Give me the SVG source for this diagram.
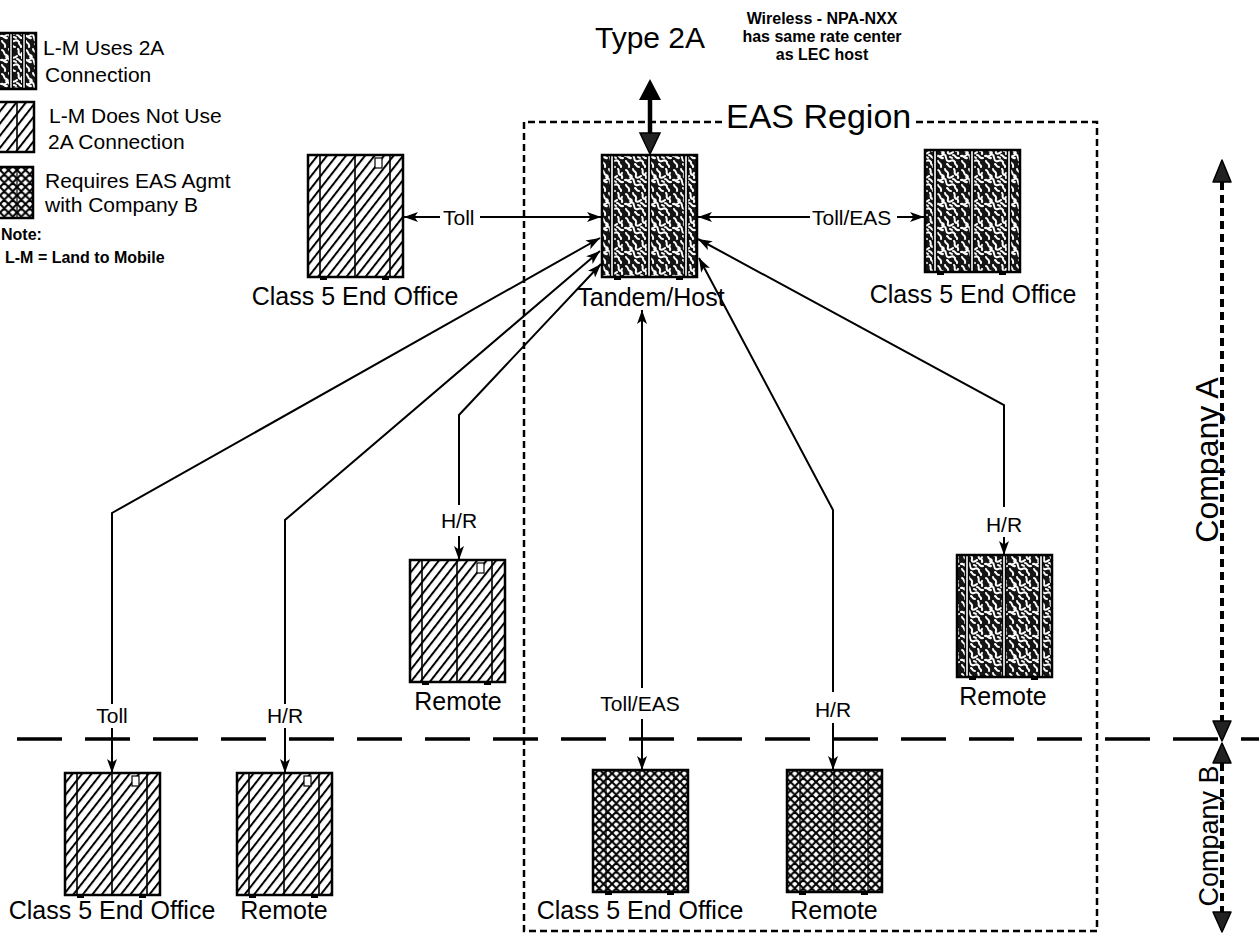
<svg xmlns="http://www.w3.org/2000/svg" width="1259" height="936" viewBox="0 0 1259 936">
<style>
 text { font-family: "Liberation Sans", Arial, sans-serif; fill:#000; }
 .lbl { font-size:25px; text-anchor:middle; }
 .cl { font-size:21px; text-anchor:middle; }
 .cls { font-size:21px; }
 .leg { font-size:21px; }
 .note { font-size:16px; font-weight:bold; }
 .wl { font-size:16px; font-weight:bold; text-anchor:middle; }
 .big { font-size:30px; }
 .comp { text-anchor:middle; }
 .conn { fill:none; stroke:#000; stroke-width:2; marker-end:url(#ah); }
 .eas { fill:none; stroke:#000; stroke-width:2.5; stroke-dasharray:7 4; }
 .cline { stroke:#000; stroke-width:3.5; stroke-dasharray:45 23; }
 .cvert { stroke:#000; stroke-width:4; stroke-dasharray:8 5; }
 .head { fill:#222; stroke:#000; stroke-width:1.5; stroke-linejoin:round; }
 .h { fill:url(#hatch); } .m { fill:url(#maze); } .x { fill:url(#cross); }
 .frame { fill:none; stroke:#000; stroke-width:2.5; }
</style>
<defs>
 <pattern id="hatch" width="7.5" height="7.5" patternUnits="userSpaceOnUse" patternTransform="rotate(38)">
  <rect width="7.5" height="7.5" fill="#fff"/>
  <line x1="1" y1="0" x2="1" y2="7.5" stroke="#000" stroke-width="2"/>
 </pattern>
 <pattern id="cross" width="8.5" height="8.5" patternUnits="userSpaceOnUse">
  <rect width="8.5" height="8.5" fill="#fff"/>
  <path d="M0 0L8.5 8.5M8.5 0L0 8.5M-1 7.5L1 9.5M7.5 -1L9.5 1M-1 1L1 -1M7.5 9.5L9.5 7.5" stroke="#000" stroke-width="2.1"/>
 </pattern>
 <pattern id="maze" width="24" height="24" patternUnits="userSpaceOnUse">
  <rect width="24" height="24" fill="#151515"/>
  <path d="M2 2c3 1 1 4 4 5s2 4-1 5M9 1c0 3 4 2 3 6s3 3 5 1M18 1c2 2-1 4 2 6M1 12c3-1 3 3 6 2M9 11c2 2 0 5 3 6s4-2 6 0M17 11c3 0 2 4 6 3M2 17c1 3 4 2 3 6M11 20c2 1 1 3 4 3M19 18c-1 3 3 3 2 5M22 5c-2 2 1 3 0 5M14 13c1 1 2 0 2 1M6 9h1" fill="none" stroke="#fff" stroke-width="2" stroke-linecap="round"/>
 </pattern>
 <marker id="ah" viewBox="0 0 14 10" refX="14" refY="5" markerWidth="14" markerHeight="10" orient="auto" markerUnits="userSpaceOnUse">
  <path d="M0 0L14 5L0 10L3.5 5Z" fill="#000"/>
 </marker>
 <g id="fh">
  <path d="M12 0V122M47 0V122M82 0V122" stroke="#000" stroke-width="1.6"/>
  <rect x="0" y="0" width="95" height="122" class="frame"/>
  <rect x="67" y="3" width="7" height="10" fill="#fff" stroke="#000" stroke-width="1.2"/>
  <path d="M12 122h7v3h-7zM74 122h7v3h-7z" fill="#000"/>
 </g>
 <g id="fm">
  <path d="M10 0V122M47 0V122M84 0V122" stroke="#000" stroke-width="4.5"/>
  <path d="M10 0V122M47 0V122M84 0V122" stroke="#fff" stroke-width="1.6"/>
  <rect x="0" y="0" width="95" height="122" class="frame"/>
  <path d="M12 122h7v3h-7zM74 122h7v3h-7z" fill="#000"/>
 </g>
 <g id="fx">
  <path d="M13 0V122M47 0V122M81 0V122" stroke="#000" stroke-width="1.2"/>
  <rect x="0" y="0" width="95" height="122" class="frame"/>
  <path d="M12 122h7v3h-7zM74 122h7v3h-7z" fill="#000"/>
 </g>
</defs>
<rect width="1259" height="936" fill="#fff"/>

<g id="legend">
 <rect class="m" x="-3" y="33" width="39" height="56"/>
 <path d="M11 33V89M24 33V89" stroke="#000" stroke-width="4"/>
 <path d="M11 33V89M24 33V89" stroke="#fff" stroke-width="1.4"/>
 <rect class="frame" x="-3" y="33" width="39" height="56"/>
 <text class="leg" x="43" y="55">L-M Uses 2A</text>
 <text class="leg" x="45" y="82">Connection</text>
 <rect class="h" x="-3" y="102" width="37" height="50"/>
 <path d="M17 102V152" stroke="#000" stroke-width="1.6"/>
 <rect class="frame" x="-3" y="102" width="37" height="50"/>
 <text class="leg" x="49" y="123">L-M Does Not Use</text>
 <text class="leg" x="48" y="149">2A Connection</text>
 <rect class="x" x="-3" y="167" width="36" height="51"/>
 <path d="M17 167V218" stroke="#000" stroke-width="1.2"/>
 <rect class="frame" x="-3" y="167" width="36" height="51"/>
 <text class="leg" x="45" y="188">Requires EAS Agmt</text>
 <text class="leg" x="45" y="212">with Company B</text>
 <text class="note" x="1" y="240">Note:</text>
 <text class="note" x="5" y="263">L-M = Land to Mobile</text>
</g>

<g id="region-labels">
 <text class="big" x="595" y="48">Type 2A</text>
 <text class="wl" x="822" y="24">Wireless - NPA-NXX</text>
 <text class="wl" x="822" y="42">has same rate center</text>
 <text class="wl" x="822" y="60">as LEC host</text>
 <text x="726" y="128" font-size="34">EAS Region</text>
</g>

<g id="eas-region">
 <path class="eas" d="M722 122H524V931H1097V122H915"/>
</g>

<g id="company-divider">
 <line class="cline" x1="17" y1="739" x2="1259" y2="739"/>
 <line class="cvert" x1="1222" y1="182" x2="1222" y2="721"/>
 <line class="cvert" x1="1222" y1="763" x2="1222" y2="912"/>
 <path class="head" d="M1222 160L1231 182L1213 182Z"/>
 <path class="head" d="M1213 721L1231 721L1222 741Z"/>
 <path class="head" d="M1222 743L1231 763L1213 763Z"/>
 <path class="head" d="M1213 912L1231 912L1222 932Z"/>
 <text class="comp" font-size="32" transform="translate(1218,460) rotate(-90)">Company A</text>
 <text class="comp" font-size="27" transform="translate(1218,836) rotate(-90)">Company B</text>
</g>

<g id="node-class5-top-left">
 <rect class="h" x="308" y="155" width="95" height="122"/>
 <use href="#fh" x="308" y="155"/>
 <text class="lbl" x="355" y="305">Class 5 End Office</text>
</g>
<g id="node-tandem-host">
 <rect class="m" x="602" y="155" width="95" height="122"/>
 <use href="#fm" x="602" y="155"/>
 <text class="lbl" x="651" y="306">Tandem/Host</text>
</g>
<g id="node-class5-top-right">
 <rect class="m" x="925" y="150" width="95" height="122"/>
 <use href="#fm" x="925" y="150"/>
 <text class="lbl" x="973" y="303">Class 5 End Office</text>
</g>
<g id="node-remote-mid">
 <rect class="h" x="410" y="560" width="95" height="122"/>
 <use href="#fh" x="410" y="560"/>
 <text class="lbl" x="458" y="710">Remote</text>
</g>
<g id="node-remote-right">
 <rect class="m" x="957" y="555" width="95" height="122"/>
 <use href="#fm" x="957" y="555"/>
 <text class="lbl" x="1003" y="705">Remote</text>
</g>
<g id="node-class5-bottom-left">
 <rect class="h" x="65" y="773" width="95" height="122"/>
 <use href="#fh" x="65" y="773"/>
 <text class="lbl" x="112" y="919">Class 5 End Office</text>
</g>
<g id="node-remote-bottom-left">
 <rect class="h" x="237" y="773" width="95" height="122"/>
 <use href="#fh" x="237" y="773"/>
 <text class="lbl" x="284" y="919">Remote</text>
</g>
<g id="node-class5-bottom-eas">
 <rect class="x" x="593" y="770" width="95" height="122"/>
 <use href="#fx" x="593" y="770"/>
 <text class="lbl" x="640" y="919">Class 5 End Office</text>
</g>
<g id="node-remote-bottom-eas">
 <rect class="x" x="787" y="770" width="95" height="122"/>
 <use href="#fx" x="787" y="770"/>
 <text class="lbl" x="834" y="919">Remote</text>
</g>

<g id="connectors">
 <line x1="650" y1="98" x2="650" y2="135" stroke="#000" stroke-width="4.5"/>
 <path d="M650 79L661 100L639 100Z" fill="#000"/>
 <path d="M640 133L660 133L650 154Z" fill="#222" stroke="#000" stroke-width="1.5"/>

 <path class="conn" d="M440 217H404"/>
 <path class="conn" d="M480 217H601"/>
 <text class="cls" x="443" y="225">Toll</text>

 <path class="conn" d="M810 217H698"/>
 <path class="conn" d="M897 217H924"/>
 <text class="cls" x="812" y="225">Toll/EAS</text>

 <path class="conn" d="M112 704V513L600 238"/>
 <path class="conn" d="M112 728V773"/>
 <text class="cl" x="112" y="723">Toll</text>

 <path class="conn" d="M285 704V520L600 251"/>
 <path class="conn" d="M285 728V773"/>
 <text class="cl" x="285" y="723">H/R</text>

 <path class="conn" d="M459 505V415L601 264"/>
 <path class="conn" d="M459 536V560"/>
 <text class="cl" x="459" y="528">H/R</text>

 <path class="conn" d="M642 688V310"/>
 <path class="conn" d="M642 719V770"/>
 <text class="cl" x="640" y="711">Toll/EAS</text>

 <path class="conn" d="M833 692V510L699 258"/>
 <path class="conn" d="M833 723V770"/>
 <text class="cl" x="833" y="717">H/R</text>

 <path class="conn" d="M1004 507V405L698 239"/>
 <path class="conn" d="M1004 537V555"/>
 <text class="cl" x="1004" y="532">H/R</text>
</g>
</svg>
